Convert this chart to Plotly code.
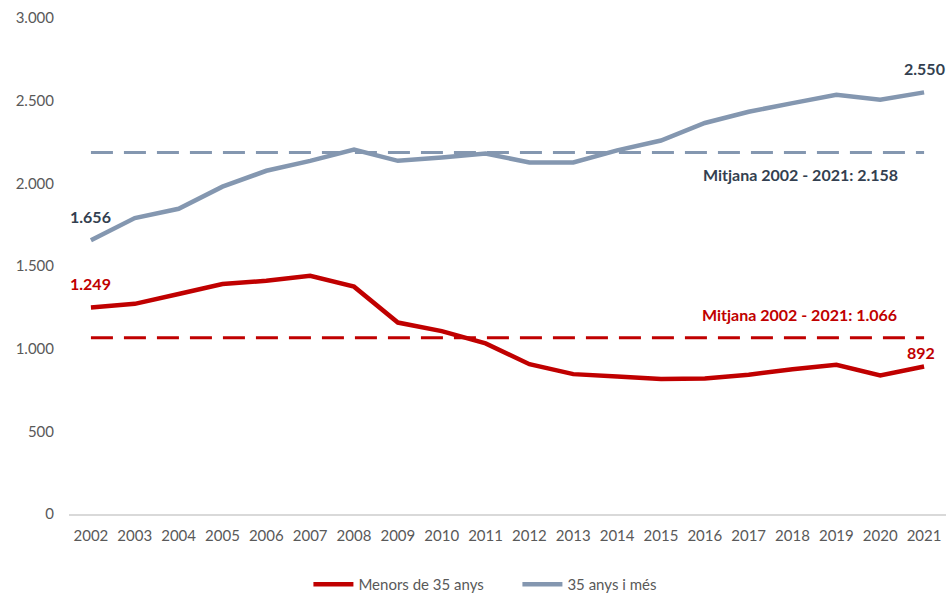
import plotly.graph_objects as go

years = [str(y) for y in range(2002, 2022)]
menors = [1249, 1271, 1331, 1391, 1411, 1441, 1375, 1158, 1106, 1032,
          906, 846, 832, 816, 820, 842, 876, 902, 838, 892]
grans = [1656, 1790, 1846, 1980, 2076, 2136, 2204, 2136, 2156, 2180,
         2126, 2126, 2199, 2259, 2365, 2433, 2485, 2535, 2505, 2550]
mitjana_menors = 1066
mitjana_grans = 2187
label_mitjana_menors = "Mitjana 2002 - 2021: 1.066"
label_mitjana_grans = "Mitjana 2002 - 2021: 2.158"
y_ticks = [0, 500, 1000, 1500, 2000, 2500, 3000]
y_ticktext = ["0", "500", "1.000", "1.500", "2.000", "2.500", "3.000"]

RED = "#C00000"
BLUE = "#8497B0"
DARK = "#333F50"
FONT = "Lato"

def fmt(v):
    return f"{v:,}".replace(",", ".")

fig = go.Figure()
fig.add_trace(go.Scatter(x=years, y=[mitjana_grans] * len(years), mode="lines",
                         line=dict(color=BLUE, width=3, dash="22px,11px"),
                         showlegend=False, hoverinfo="skip"))
fig.add_trace(go.Scatter(x=years, y=[mitjana_menors] * len(years), mode="lines",
                         line=dict(color=RED, width=3, dash="22px,11px"),
                         showlegend=False, hoverinfo="skip"))
fig.add_trace(go.Scatter(x=years, y=menors, mode="lines", name="Menors de 35 anys",
                         line=dict(color=RED, width=4.5)))
fig.add_trace(go.Scatter(x=years, y=grans, mode="lines", name="35 anys i més",
                         line=dict(color=BLUE, width=4.5)))

last = len(years) - 1
ann = []
lab_font = lambda c: dict(family=FONT, size=16, color=c, weight="bold")
ann.append(dict(x=0, y=grans[0], text=fmt(grans[0]), showarrow=False,
                yshift=24, font=lab_font(DARK)))
ann.append(dict(x=last, y=grans[-1], text=fmt(grans[-1]), showarrow=False,
                yshift=24, font=lab_font(DARK)))
ann.append(dict(x=0, y=menors[0], text=fmt(menors[0]), showarrow=False,
                yshift=24, font=lab_font(RED)))
ann.append(dict(x=last, y=menors[-1], text=fmt(menors[-1]), showarrow=False,
                yshift=14, xshift=-3, font=lab_font(RED)))
ann.append(dict(x=16.18, y=mitjana_grans, text=label_mitjana_grans, showarrow=False,
                yshift=-22, font=lab_font(DARK)))
ann.append(dict(x=16.15, y=mitjana_menors, text=label_mitjana_menors, showarrow=False,
                yshift=23, font=lab_font(RED)))

# Page body has an 8px default margin; start small enough to fit, then grow to 946x601
fig.update_layout(
    width=930, height=585,
    margin=dict(l=69, r=0, t=18, b=82),
    plot_bgcolor="white", paper_bgcolor="white",
    font=dict(family=FONT, size=15, color="#595959"),
    annotations=ann,
    showlegend=True,
    legend=dict(orientation="h", x=0.273, xanchor="left", y=-0.143, yanchor="middle",
                font=dict(family=FONT, size=15, color="#595959"),
                entrywidth=154, itemwidth=40, tracegroupgap=0),
    xaxis=dict(type="category", range=[-0.5, 19.5], showgrid=False, zeroline=False,
               showline=True, linecolor="#D9D9D9", linewidth=1.5, ticks="",
               automargin=False,
               tickfont=dict(family=FONT, size=15, color="#595959"), ticklabelstandoff=7),
    yaxis=dict(range=[0, 3000], tickvals=y_ticks, ticktext=y_ticktext, showgrid=False,
               zeroline=False, showline=False, ticks="", automargin=False,
               tickfont=dict(family=FONT, size=15, color="#595959"), ticklabelstandoff=14),
)

post = ("document.body.style.margin='0';document.body.style.overflow='hidden';"
        "var gd=document.getElementById('{plot_id}');"
        "Plotly.relayout(gd,{width:946,height:601});")
fig.write_html("out.html", config={"displayModeBar": False}, post_script=post)
